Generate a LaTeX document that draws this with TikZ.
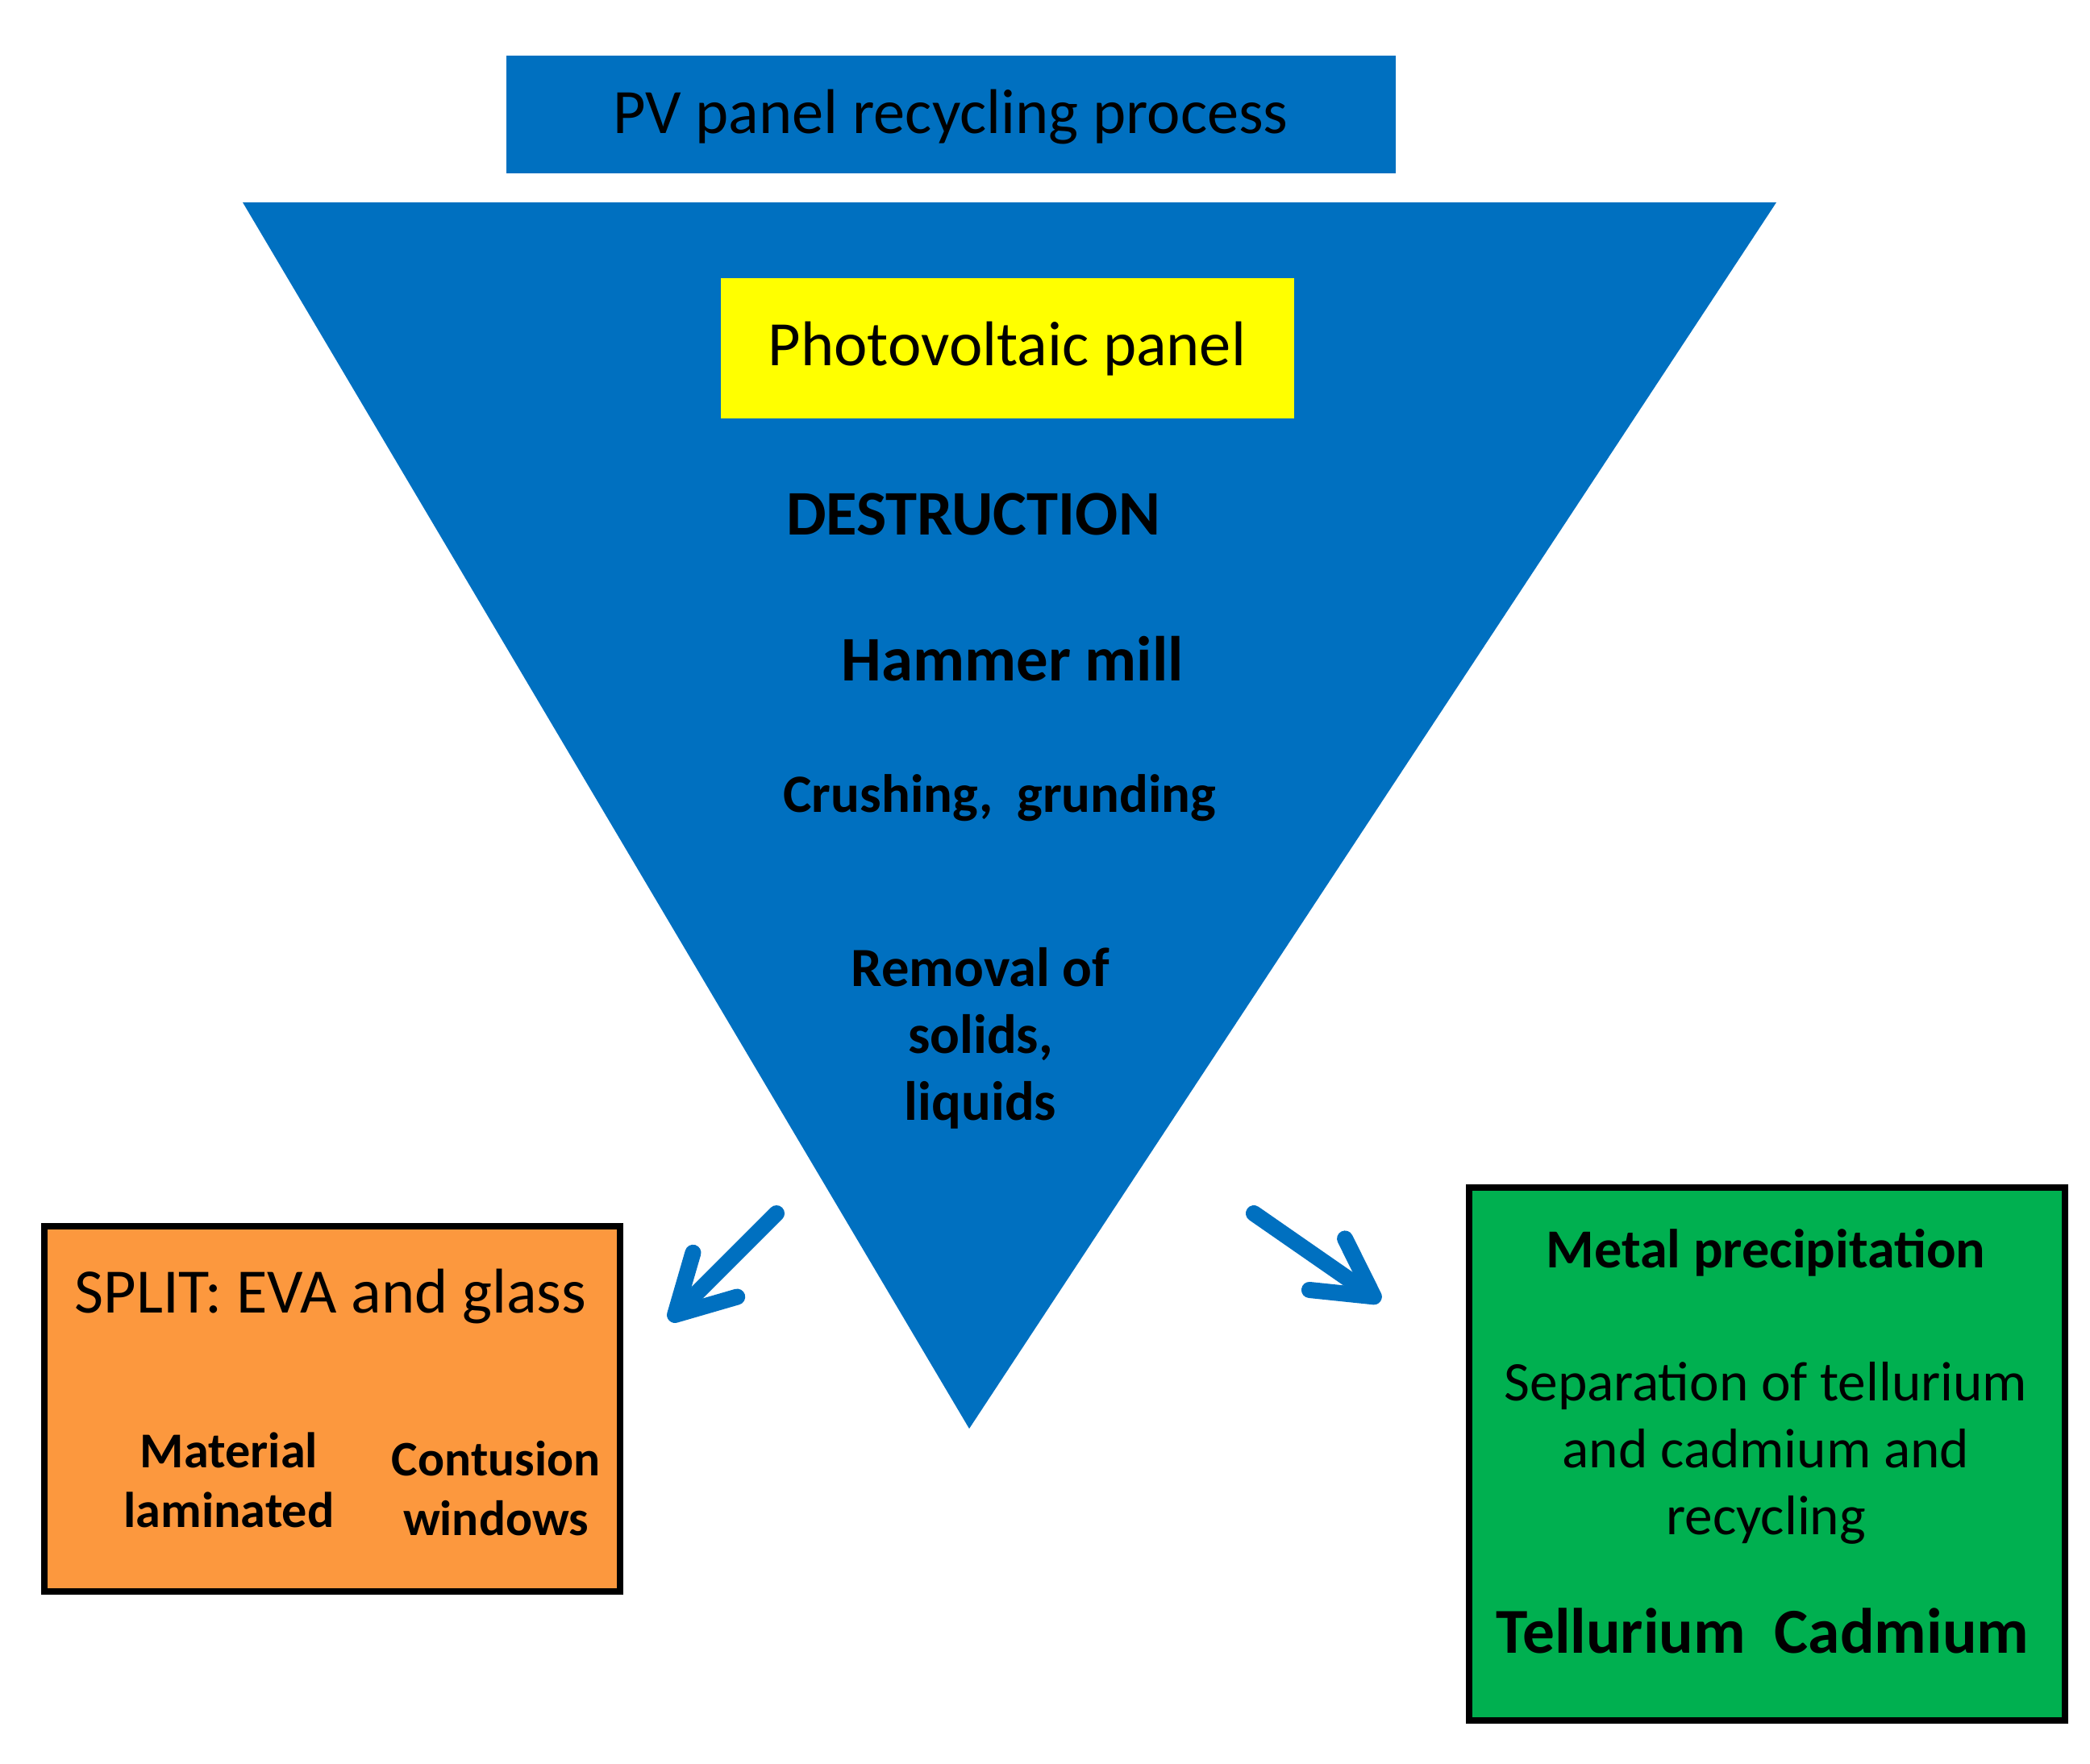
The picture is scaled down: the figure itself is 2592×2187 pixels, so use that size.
\documentclass[tikz,border=0pt]{standalone}
\usepackage{fontspec}
\setmainfont{Carlito}
\usetikzlibrary{arrows.meta}
\definecolor{pvblue}{RGB}{0,112,192}
\definecolor{pvyellow}{RGB}{255,255,0}
\definecolor{pvorange}{RGB}{252,152,62}
\definecolor{pvgreen}{RGB}{0,176,80}
\tikzset{
  txt/.style={inner sep=0pt, align=center, text=black},
  boxed/.style={draw=black, line width=2.2pt, inner sep=0pt},
  flow/.style={draw=pvblue, line width=5.7pt, line cap=round, -{Straight Barb[length=20pt, width=22pt, line width=5.7pt, round]}},
}
\begin{document}
\begin{tikzpicture}[x=0.01cm, y=-0.01cm]
\useasboundingbox (0,0) rectangle (2592,2187);
% title
\fill[pvblue] (628,69) rectangle (1731,215);
\node[txt, font=\fontsize{22.3}{26}\selectfont] (title) at (1179,145) {PV panel recycling process};
% funnel
\fill[pvblue] (301,251) -- (2203,251) -- (1202,1772) -- cycle;
\coordinate (apex) at (1202,1772);
% yellow
\fill[pvyellow] (894,345) rectangle (1605,519);
\node[txt, font=\fontsize{22.3}{26}\selectfont] (pv) at (1249,433) {Photovoltaic panel};
\node[txt, font=\fontsize{22.4}{26}\selectfont\bfseries] (destr) at (1207,638) {DESTRUCTION};
\node[txt, font=\fontsize{22.4}{26}\selectfont\bfseries] (hammer) at (1256,817) {Hammer mill};
\node[txt, font=\fontsize{19}{22}\selectfont\bfseries] (crush) at (1240,990) {Crushing,\ \ grunding};
\node[txt, font=\fontsize{19.5}{23.6}\selectfont\bfseries] (removal) at (1216,1288) {Removal of\\solids,\\liquids};
% orange box
\draw[boxed, fill=pvorange] (55,1521) rectangle (769,1974);
\node[txt, font=\fontsize{22.3}{26}\selectfont] (split) at (410,1608) {SPLIT:\ EVA and glass};
\node[txt, font=\fontsize{17.7}{21.2}\selectfont\bfseries] (mat) at (284,1836) {Material\\laminated};
\node[txt, font=\fontsize{17.5}{21.2}\selectfont\bfseries] (cont) at (615,1846) {Contusion\\windows};
% green box
\draw[boxed, fill=pvgreen] (1822,1473) rectangle (2561,2134);
\node[txt, font=\fontsize{19.4}{22}\selectfont\bfseries] (metal) at (2190,1554) {Metal precipitation};
\node[txt, font=\fontsize{19.7}{23.6}\selectfont] (sep) at (2190,1802) {Separation of tellurium\\and cadmium and\\recycling};
\node[txt, font=\fontsize{22.6}{26}\selectfont\bfseries] (tc) at (2186,2023) {Tellurium\ \ Cadmium};
% arrows
\coordinate (l1) at (963,1505);
\coordinate (l2) at (830,1638);
\coordinate (r1) at (1555,1505);
\coordinate (r2) at (1712,1614);
\draw[flow] (l1) -- (l2);
\draw[flow] (r1) -- (r2);
\end{tikzpicture}
\end{document}
